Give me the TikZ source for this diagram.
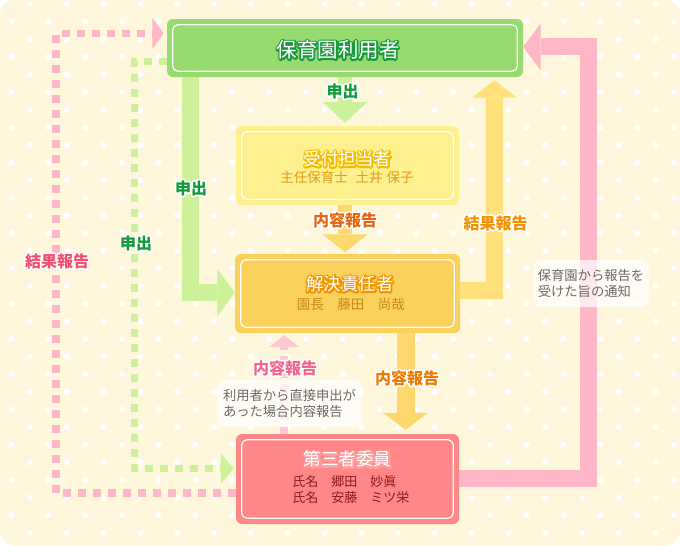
\documentclass[tikz,border=0pt]{standalone}
\usepackage{fontspec}
\setmainfont{Noto Sans CJK JP}
\usetikzlibrary{arrows.meta}
\definecolor{bgc}{HTML}{FEF7DC}
\definecolor{gbox}{HTML}{96DA70}
\definecolor{garr}{HTML}{CDF09A}
\definecolor{ybox}{HTML}{FCF18C}
\definecolor{ysub}{HTML}{E49A1C}
\definecolor{obox}{HTML}{FBD15E}
\definecolor{osub}{HTML}{C98A12}
\definecolor{pbox}{HTML}{FF8787}
\definecolor{psub}{HTML}{8E1B1B}
\definecolor{yarr}{HTML}{FFE07A}
\definecolor{karr}{HTML}{FDD86C}
\definecolor{parr}{HTML}{FFB6C6}
\definecolor{pdot}{HTML}{FFB6C8}
\definecolor{pdotl}{HTML}{FFC6D4}
\definecolor{notegray}{HTML}{6A6A6A}
\definecolor{lgreen}{HTML}{119B3A}
\definecolor{lpink}{HTML}{F2506C}
\definecolor{lpink2}{HTML}{F2668A}
\definecolor{lorange}{HTML}{F39200}
\definecolor{lred}{HTML}{E8650E}
\definecolor{lorange2}{HTML}{EE7A00}
\newcommand\otext[6]{%
  \node[font=#3,inner sep=0pt] (#1-o) at (#2) {\special{pdf:literal direct 1 Tr 3.4 w 1 j 1 J #5 RG}#6\special{pdf:literal direct 0 Tr}};%
  \node[font=#3,text=#4,inner sep=0pt] (#1) at (#2) {#6};}
\begin{document}
\begin{tikzpicture}[x=1pt,y=-1pt,
  box/.style={draw=none,rounded corners=6pt,inner sep=0pt},
  thickarr/.style={line width=17pt},
  dotline/.style={line width=7.5pt,dash pattern=on 8pt off 7pt},
  bigtip/.style={-{Triangle[width=47pt,length=17.5pt,line width=0pt]}},
  note/.style={fill=white,fill opacity=0.7,text opacity=1,rounded corners=8pt,align=left,
    text=notegray,font=\fontsize{13.3pt}{15.5pt}\selectfont,inner sep=0pt}]
\useasboundingbox (0,0) rectangle (680,546);
\fill[white] (0,0) rectangle (680,546);
\fill[bgc,rounded corners=15pt] (0,0) rectangle (680,546);
\begin{scope}
\clip[rounded corners=15pt] (0,0) rectangle (680,546);
\foreach \i in {0,...,18}{\foreach \j in {0,...,15}{
  \fill[white] (30+36.8*\i,4+35.26*\j) circle (3pt);
  \fill[white] (11.6+36.8*\i,21.6+35.26*\j) circle (3pt);}}
\end{scope}
% boxes
\node[box,fill=gbox,minimum width=356pt,minimum height=58pt] (user) at (345,48) {};
\node[box,fill=ybox,minimum width=223pt,minimum height=79pt] (recv) at (347.5,165.5) {};
\node[box,fill=obox,minimum width=225pt,minimum height=79pt] (resp) at (347.5,293.5) {};
\node[box,fill=pbox,minimum width=223pt,minimum height=90pt] (third) at (347.5,479) {};
\foreach \n in {user,recv,resp,third}
  \draw[white,line width=1.2pt,rounded corners=5pt] ([xshift=6pt,yshift=-6pt]\n.north west) rectangle ([xshift=-6pt,yshift=6pt]\n.south east);
% coordinates
\coordinate (gc) at (190.8,292.5);
\coordinate (dg1) at (134.3,61.7);
\coordinate (dg2) at (134.3,468.5);
\coordinate (pd1) at (56,493);
\coordinate (pd2) at (56,33.3);
\coordinate (pt1) at (588.7,478);
\coordinate (pt2) at (588.7,46.9);
\coordinate (yc) at (494.5,290);
\coordinate (ka) at (345,0);
\coordinate (kb) at (405.5,0);
\coordinate (kc) at (284.2,0);
% connectors
\draw[dotline,pdot,-{Triangle[width=31pt,length=11.5pt,line width=0pt]},shorten >=3pt] (pd1 -| third.west) -- (pd1) -- (pd2) -- (pd2 -| user.west);
\draw[dotline,garr,-{Triangle[width=30pt,length=13pt,line width=0pt]},shorten >=2pt] (dg1 -| user.west) -- (dg1) -- (dg2) -- (dg2 -| third.west);
\draw[thickarr,garr,bigtip] (gc |- user.south) -- (gc) -- (gc -| resp.west);
\draw[thickarr,parr,bigtip] (pt1 -| third.east) -- (pt1) -- (pt2) -- (pt2 -| user.east);
\draw[thickarr,yarr,-{Triangle[width=45pt,length=17.5pt,line width=0pt]},shorten >=3pt] (yc -| resp.east) -- (yc) -- (yc |- user.south);
\draw[line width=14pt,garr,-{Triangle[width=45pt,length=21pt,line width=0pt]},shorten >=3pt] (user.south) -- (user.south |- recv.north);
\draw[line width=14pt,karr,-{Triangle[width=45pt,length=18pt,line width=0pt]},shorten >=1.5pt] (ka |- recv.south) -- (ka |- resp.north);
\draw[line width=18pt,karr,-{Triangle[width=45pt,length=17pt,line width=0pt]},shorten >=4pt] (kb |- resp.south) -- (kb |- third.north);
\draw[line width=8pt,pdotl,dash pattern=on 8pt off 6pt,-{Triangle[width=30pt,length=12pt,line width=0pt]},shorten >=2pt] (kc |- third.north) -- (kc |- resp.south);
% notes
\node[note,minimum width=145pt,minimum height=47pt] (note1) at (289.5,403.5) {利用者から直接申出が\\あった場合内容報告};
\node[note,minimum width=116pt,minimum height=47pt] (note2) at (591,283.5) {保育園から報告を\\受けた旨の通知};
% titles
\otext{t1}{338,50}{\fontsize{20.5pt}{24pt}\selectfont}{white}{0.102 0.604 0.243}{保育園利用者}
\otext{t2}{347.5,159}{\fontsize{17.5pt}{21pt}\selectfont}{white}{0.957 0.745 0}{受付担当者}
\otext{t3}{350,284}{\fontsize{17.5pt}{21pt}\selectfont}{white}{0.949 0.588 0}{解決責任者}
\otext{t4}{347.7,459.3}{\fontsize{17.5pt}{21pt}\selectfont}{white}{1 0.62 0.62}{第三者委員}
\node[font=\fontsize{13.5pt}{16pt}\selectfont,text=ysub,inner sep=0pt] (s2) at (347,177.5) {主任保育士\hspace{8pt}土井\hspace{4pt}保子};
\node[font=\fontsize{13.5pt}{16pt}\selectfont,text=osub,inner sep=0pt] (s3) at (350.8,304.3) {園長　藤田　尚哉};
\node[font=\fontsize{13pt}{16pt}\selectfont,text=psub,inner sep=0pt,align=left] (s4) at (350.8,490) {氏名　郷田　妙眞\\氏名　安藤　ミツ栄};
% labels
\otext{l1}{342.5,91}{\fontsize{16pt}{19pt}\selectfont\bfseries}{lgreen}{1 1 1}{申出}
\otext{l2}{191,188}{\fontsize{16pt}{19pt}\selectfont\bfseries}{lgreen}{1 1 1}{申出}
\otext{l3}{136,243}{\fontsize{16pt}{19pt}\selectfont\bfseries}{lgreen}{1 1 1}{申出}
\otext{l4}{57,261}{\fontsize{16pt}{19pt}\selectfont\bfseries}{lpink}{1 1 1}{結果報告}
\otext{l5}{345,220}{\fontsize{16pt}{19pt}\selectfont\bfseries}{lred}{1 1 1}{内容報告}
\otext{l6}{495.5,223}{\fontsize{16pt}{19pt}\selectfont\bfseries}{lorange}{1 1 1}{結果報告}
\otext{l7}{407,378}{\fontsize{16pt}{19pt}\selectfont\bfseries}{lorange2}{1 1 1}{内容報告}
\otext{l8}{285,368}{\fontsize{16pt}{19pt}\selectfont\bfseries}{lpink2}{1 1 1}{内容報告}
\end{tikzpicture}
\end{document}
